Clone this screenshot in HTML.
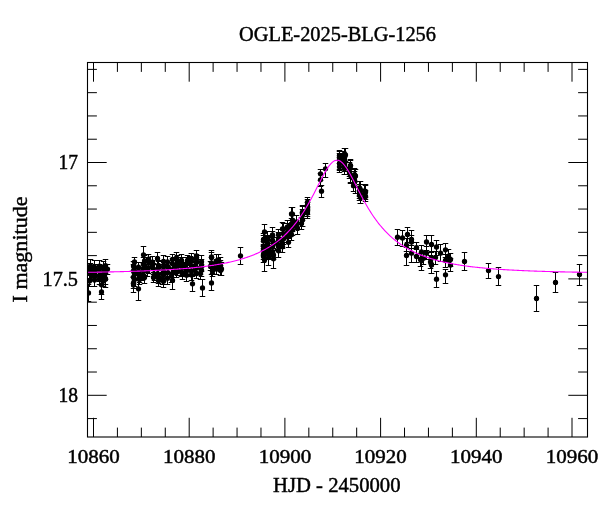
<!DOCTYPE html>
<html><head><meta charset="utf-8"><style>html,body{margin:0;padding:0;background:#fff;width:600px;height:512px;overflow:hidden}svg{display:block;will-change:transform}</style></head>
<body><svg width="600" height="512" viewBox="0 0 600 512"><rect width="600" height="512" fill="#fff"/>
<defs><clipPath id="cp"><rect x="87.5" y="62.5" width="500.0" height="374.5"/></clipPath></defs><g clip-path="url(#cp)">
<path d="M90.5,259.5V272.5M87.75,259.5h5.5M87.75,272.5h5.5M90.5,263.5V275.5M87.75,263.5h5.5M87.75,275.5h5.5M89.5,267.5V278.5M86.75,267.5h5.5M86.75,278.5h5.5M91.5,270.5V280.5M88.75,270.5h5.5M88.75,280.5h5.5M89.5,275.5V286.5M86.75,275.5h5.5M86.75,286.5h5.5M94.5,260.5V273.5M91.75,260.5h5.5M91.75,273.5h5.5M95.5,264.5V274.5M92.75,264.5h5.5M92.75,274.5h5.5M94.5,268.5V277.5M91.75,268.5h5.5M91.75,277.5h5.5M94.5,271.5V280.5M91.75,271.5h5.5M91.75,280.5h5.5M94.5,273.5V286.5M91.75,273.5h5.5M91.75,286.5h5.5M99.5,260.5V271.5M96.75,260.5h5.5M96.75,271.5h5.5M99.5,264.5V274.5M96.75,264.5h5.5M96.75,274.5h5.5M100.5,268.5V280.5M97.75,268.5h5.5M97.75,280.5h5.5M99.5,271.5V281.5M96.75,271.5h5.5M96.75,281.5h5.5M99.5,272.5V284.5M96.75,272.5h5.5M96.75,284.5h5.5M103.5,261.5V272.5M100.75,261.5h5.5M100.75,272.5h5.5M104.5,265.5V274.5M101.75,265.5h5.5M101.75,274.5h5.5M102.5,268.5V279.5M99.75,268.5h5.5M99.75,279.5h5.5M104.5,271.5V280.5M101.75,271.5h5.5M101.75,280.5h5.5M103.5,275.5V286.5M100.75,275.5h5.5M100.75,286.5h5.5M105.5,259.5V271.5M102.75,259.5h5.5M102.75,271.5h5.5M107.5,264.5V274.5M104.75,264.5h5.5M104.75,274.5h5.5M105.5,267.5V279.5M102.75,267.5h5.5M102.75,279.5h5.5M105.5,273.5V284.5M102.75,273.5h5.5M102.75,284.5h5.5M88.5,284.5V301.5M85.75,284.5h5.5M85.75,301.5h5.5M101.5,285.5V299.5M98.75,285.5h5.5M98.75,299.5h5.5M101.5,277.5V294.5M98.75,277.5h5.5M98.75,294.5h5.5M105.5,271.5V287.5M102.75,271.5h5.5M102.75,287.5h5.5M133.5,261.5V270.5M130.75,261.5h5.5M130.75,270.5h5.5M134.5,262.5V272.5M131.75,262.5h5.5M131.75,272.5h5.5M133.5,264.5V277.5M130.75,264.5h5.5M130.75,277.5h5.5M134.5,267.5V280.5M131.75,267.5h5.5M131.75,280.5h5.5M133.5,271.5V283.5M130.75,271.5h5.5M130.75,283.5h5.5M134.5,273.5V286.5M131.75,273.5h5.5M131.75,286.5h5.5M133.5,276.5V288.5M130.75,276.5h5.5M130.75,288.5h5.5M138.5,262.5V271.5M135.75,262.5h5.5M135.75,271.5h5.5M138.5,266.5V275.5M135.75,266.5h5.5M135.75,275.5h5.5M139.5,268.5V279.5M136.75,268.5h5.5M136.75,279.5h5.5M139.5,271.5V282.5M136.75,271.5h5.5M136.75,282.5h5.5M139.5,274.5V284.5M136.75,274.5h5.5M136.75,284.5h5.5M144.5,255.5V265.5M141.75,255.5h5.5M141.75,265.5h5.5M143.5,257.5V270.5M140.75,257.5h5.5M140.75,270.5h5.5M143.5,262.5V274.5M140.75,262.5h5.5M140.75,274.5h5.5M144.5,265.5V275.5M141.75,265.5h5.5M141.75,275.5h5.5M142.5,270.5V280.5M139.75,270.5h5.5M139.75,280.5h5.5M144.5,271.5V283.5M141.75,271.5h5.5M141.75,283.5h5.5M148.5,254.5V264.5M145.75,254.5h5.5M145.75,264.5h5.5M148.5,257.5V266.5M145.75,257.5h5.5M145.75,266.5h5.5M148.5,262.5V273.5M145.75,262.5h5.5M145.75,273.5h5.5M147.5,266.5V276.5M144.75,266.5h5.5M144.75,276.5h5.5M152.5,256.5V267.5M149.75,256.5h5.5M149.75,267.5h5.5M152.5,260.5V270.5M149.75,260.5h5.5M149.75,270.5h5.5M153.5,263.5V274.5M150.75,263.5h5.5M150.75,274.5h5.5M154.5,269.5V280.5M151.75,269.5h5.5M151.75,280.5h5.5M153.5,272.5V282.5M150.75,272.5h5.5M150.75,282.5h5.5M157.5,252.5V264.5M154.75,252.5h5.5M154.75,264.5h5.5M158.5,260.5V270.5M155.75,260.5h5.5M155.75,270.5h5.5M158.5,261.5V273.5M155.75,261.5h5.5M155.75,273.5h5.5M157.5,268.5V278.5M154.75,268.5h5.5M154.75,278.5h5.5M158.5,270.5V283.5M155.75,270.5h5.5M155.75,283.5h5.5M158.5,274.5V286.5M155.75,274.5h5.5M155.75,286.5h5.5M163.5,255.5V267.5M160.75,255.5h5.5M160.75,267.5h5.5M163.5,261.5V271.5M160.75,261.5h5.5M160.75,271.5h5.5M163.5,264.5V275.5M160.75,264.5h5.5M160.75,275.5h5.5M163.5,266.5V278.5M160.75,266.5h5.5M160.75,278.5h5.5M163.5,269.5V281.5M160.75,269.5h5.5M160.75,281.5h5.5M163.5,275.5V287.5M160.75,275.5h5.5M160.75,287.5h5.5M167.5,256.5V267.5M164.75,256.5h5.5M164.75,267.5h5.5M167.5,261.5V271.5M164.75,261.5h5.5M164.75,271.5h5.5M168.5,262.5V273.5M165.75,262.5h5.5M165.75,273.5h5.5M167.5,266.5V278.5M164.75,266.5h5.5M164.75,278.5h5.5M167.5,271.5V284.5M164.75,271.5h5.5M164.75,284.5h5.5M172.5,254.5V264.5M169.75,254.5h5.5M169.75,264.5h5.5M172.5,258.5V268.5M169.75,258.5h5.5M169.75,268.5h5.5M173.5,263.5V274.5M170.75,263.5h5.5M170.75,274.5h5.5M173.5,265.5V277.5M170.75,265.5h5.5M170.75,277.5h5.5M171.5,269.5V282.5M168.75,269.5h5.5M168.75,282.5h5.5M177.5,255.5V265.5M174.75,255.5h5.5M174.75,265.5h5.5M177.5,257.5V267.5M174.75,257.5h5.5M174.75,267.5h5.5M176.5,260.5V273.5M173.75,260.5h5.5M173.75,273.5h5.5M177.5,265.5V275.5M174.75,265.5h5.5M174.75,275.5h5.5M176.5,267.5V277.5M173.75,267.5h5.5M173.75,277.5h5.5M181.5,254.5V266.5M178.75,254.5h5.5M178.75,266.5h5.5M181.5,257.5V269.5M178.75,257.5h5.5M178.75,269.5h5.5M182.5,262.5V272.5M179.75,262.5h5.5M179.75,272.5h5.5M181.5,267.5V276.5M178.75,267.5h5.5M178.75,276.5h5.5M182.5,269.5V279.5M179.75,269.5h5.5M179.75,279.5h5.5M187.5,255.5V265.5M184.75,255.5h5.5M184.75,265.5h5.5M186.5,257.5V269.5M183.75,257.5h5.5M183.75,269.5h5.5M185.5,262.5V271.5M182.75,262.5h5.5M182.75,271.5h5.5M186.5,265.5V276.5M183.75,265.5h5.5M183.75,276.5h5.5M186.5,268.5V281.5M183.75,268.5h5.5M183.75,281.5h5.5M191.5,253.5V264.5M188.75,253.5h5.5M188.75,264.5h5.5M190.5,256.5V267.5M187.75,256.5h5.5M187.75,267.5h5.5M191.5,261.5V271.5M188.75,261.5h5.5M188.75,271.5h5.5M191.5,265.5V276.5M188.75,265.5h5.5M188.75,276.5h5.5M191.5,269.5V280.5M188.75,269.5h5.5M188.75,280.5h5.5M196.5,254.5V263.5M193.75,254.5h5.5M193.75,263.5h5.5M196.5,257.5V266.5M193.75,257.5h5.5M193.75,266.5h5.5M195.5,259.5V271.5M192.75,259.5h5.5M192.75,271.5h5.5M195.5,262.5V275.5M192.75,262.5h5.5M192.75,275.5h5.5M196.5,268.5V278.5M193.75,268.5h5.5M193.75,278.5h5.5M201.5,255.5V267.5M198.75,255.5h5.5M198.75,267.5h5.5M201.5,259.5V271.5M198.75,259.5h5.5M198.75,271.5h5.5M200.5,261.5V274.5M197.75,261.5h5.5M197.75,274.5h5.5M201.5,264.5V276.5M198.75,264.5h5.5M198.75,276.5h5.5M200.5,267.5V279.5M197.75,267.5h5.5M197.75,279.5h5.5M143.5,246.5V263.5M140.75,246.5h5.5M140.75,263.5h5.5M138.5,280.5V300.5M135.75,280.5h5.5M135.75,300.5h5.5M133.5,277.5V292.5M130.75,277.5h5.5M130.75,292.5h5.5M134.5,257.5V268.5M131.75,257.5h5.5M131.75,268.5h5.5M162.5,272.5V284.5M159.75,272.5h5.5M159.75,284.5h5.5M172.5,272.5V289.5M169.75,272.5h5.5M169.75,289.5h5.5M192.5,276.5V291.5M189.75,276.5h5.5M189.75,291.5h5.5M202.5,279.5V296.5M199.75,279.5h5.5M199.75,296.5h5.5M196.5,250.5V262.5M193.75,250.5h5.5M193.75,262.5h5.5M191.5,253.5V265.5M188.75,253.5h5.5M188.75,265.5h5.5M176.5,252.5V264.5M173.75,252.5h5.5M173.75,264.5h5.5M211.5,252.5V262.5M208.75,252.5h5.5M208.75,262.5h5.5M211.5,257.5V268.5M208.75,257.5h5.5M208.75,268.5h5.5M210.5,261.5V270.5M207.75,261.5h5.5M207.75,270.5h5.5M212.5,262.5V273.5M209.75,262.5h5.5M209.75,273.5h5.5M212.5,266.5V276.5M209.75,266.5h5.5M209.75,276.5h5.5M216.5,254.5V267.5M213.75,254.5h5.5M213.75,267.5h5.5M216.5,259.5V270.5M213.75,259.5h5.5M213.75,270.5h5.5M216.5,260.5V270.5M213.75,260.5h5.5M213.75,270.5h5.5M216.5,263.5V274.5M213.75,263.5h5.5M213.75,274.5h5.5M220.5,257.5V269.5M217.75,257.5h5.5M217.75,269.5h5.5M220.5,260.5V271.5M217.75,260.5h5.5M217.75,271.5h5.5M220.5,265.5V275.5M217.75,265.5h5.5M217.75,275.5h5.5M211.5,250.5V264.5M208.75,250.5h5.5M208.75,264.5h5.5M211.5,274.5V290.5M208.75,274.5h5.5M208.75,290.5h5.5M218.5,254.5V266.5M215.75,254.5h5.5M215.75,266.5h5.5M221.5,262.5V275.5M218.75,262.5h5.5M218.75,275.5h5.5M240.5,247.5V264.5M237.75,247.5h5.5M237.75,264.5h5.5M263.5,233.5V245.5M260.75,233.5h5.5M260.75,245.5h5.5M263.5,235.5V246.5M260.75,235.5h5.5M260.75,246.5h5.5M263.5,241.5V250.5M260.75,241.5h5.5M260.75,250.5h5.5M263.5,244.5V255.5M260.75,244.5h5.5M260.75,255.5h5.5M263.5,248.5V259.5M260.75,248.5h5.5M260.75,259.5h5.5M263.5,251.5V262.5M260.75,251.5h5.5M260.75,262.5h5.5M267.5,231.5V243.5M264.75,231.5h5.5M264.75,243.5h5.5M267.5,235.5V244.5M264.75,235.5h5.5M264.75,244.5h5.5M267.5,238.5V251.5M264.75,238.5h5.5M264.75,251.5h5.5M267.5,242.5V252.5M264.75,242.5h5.5M264.75,252.5h5.5M268.5,248.5V258.5M265.75,248.5h5.5M265.75,258.5h5.5M268.5,249.5V259.5M265.75,249.5h5.5M265.75,259.5h5.5M272.5,231.5V241.5M269.75,231.5h5.5M269.75,241.5h5.5M272.5,235.5V245.5M269.75,235.5h5.5M269.75,245.5h5.5M273.5,237.5V248.5M270.75,237.5h5.5M270.75,248.5h5.5M272.5,241.5V252.5M269.75,241.5h5.5M269.75,252.5h5.5M272.5,246.5V256.5M269.75,246.5h5.5M269.75,256.5h5.5M273.5,250.5V259.5M270.75,250.5h5.5M270.75,259.5h5.5M278.5,229.5V240.5M275.75,229.5h5.5M275.75,240.5h5.5M278.5,232.5V245.5M275.75,232.5h5.5M275.75,245.5h5.5M277.5,237.5V249.5M274.75,237.5h5.5M274.75,249.5h5.5M278.5,241.5V251.5M275.75,241.5h5.5M275.75,251.5h5.5M278.5,244.5V257.5M275.75,244.5h5.5M275.75,257.5h5.5M283.5,223.5V233.5M280.75,223.5h5.5M280.75,233.5h5.5M283.5,229.5V238.5M280.75,229.5h5.5M280.75,238.5h5.5M283.5,232.5V244.5M280.75,232.5h5.5M280.75,244.5h5.5M282.5,237.5V248.5M279.75,237.5h5.5M279.75,248.5h5.5M282.5,240.5V252.5M279.75,240.5h5.5M279.75,252.5h5.5M288.5,223.5V233.5M285.75,223.5h5.5M285.75,233.5h5.5M288.5,225.5V236.5M285.75,225.5h5.5M285.75,236.5h5.5M288.5,228.5V238.5M285.75,228.5h5.5M285.75,238.5h5.5M287.5,231.5V242.5M284.75,231.5h5.5M284.75,242.5h5.5M288.5,237.5V247.5M285.75,237.5h5.5M285.75,247.5h5.5M291.5,207.5V220.5M288.75,207.5h5.5M288.75,220.5h5.5M292.5,215.5V224.5M289.75,215.5h5.5M289.75,224.5h5.5M291.5,218.5V229.5M288.75,218.5h5.5M288.75,229.5h5.5M292.5,220.5V231.5M289.75,220.5h5.5M289.75,231.5h5.5M292.5,224.5V235.5M289.75,224.5h5.5M289.75,235.5h5.5M291.5,228.5V240.5M288.75,228.5h5.5M288.75,240.5h5.5M296.5,215.5V227.5M293.75,215.5h5.5M293.75,227.5h5.5M296.5,220.5V229.5M293.75,220.5h5.5M293.75,229.5h5.5M297.5,222.5V234.5M294.75,222.5h5.5M294.75,234.5h5.5M302.5,206.5V218.5M299.75,206.5h5.5M299.75,218.5h5.5M302.5,209.5V220.5M299.75,209.5h5.5M299.75,220.5h5.5M302.5,213.5V226.5M299.75,213.5h5.5M299.75,226.5h5.5M301.5,217.5V229.5M298.75,217.5h5.5M298.75,229.5h5.5M307.5,199.5V209.5M304.75,199.5h5.5M304.75,209.5h5.5M307.5,202.5V214.5M304.75,202.5h5.5M304.75,214.5h5.5M307.5,206.5V216.5M304.75,206.5h5.5M304.75,216.5h5.5M307.5,207.5V218.5M304.75,207.5h5.5M304.75,218.5h5.5M264.5,252.5V271.5M261.75,252.5h5.5M261.75,271.5h5.5M273.5,250.5V268.5M270.75,250.5h5.5M270.75,268.5h5.5M268.5,250.5V265.5M265.75,250.5h5.5M265.75,265.5h5.5M264.5,224.5V240.5M261.75,224.5h5.5M261.75,240.5h5.5M272.5,227.5V243.5M269.75,227.5h5.5M269.75,243.5h5.5M282.5,222.5V237.5M279.75,222.5h5.5M279.75,237.5h5.5M287.5,220.5V235.5M284.75,220.5h5.5M284.75,235.5h5.5M292.5,207.5V222.5M289.75,207.5h5.5M289.75,222.5h5.5M302.5,205.5V226.5M299.75,205.5h5.5M299.75,226.5h5.5M307.5,197.5V210.5M304.75,197.5h5.5M304.75,210.5h5.5M321.5,185.5V197.5M318.75,185.5h5.5M318.75,197.5h5.5M320.5,173.5V186.5M317.75,173.5h5.5M317.75,186.5h5.5M320.5,169.5V180.5M317.75,169.5h5.5M317.75,180.5h5.5M325.5,163.5V177.5M322.75,163.5h5.5M322.75,177.5h5.5M339.5,150.5V160.5M336.75,150.5h5.5M336.75,160.5h5.5M339.5,153.5V163.5M336.75,153.5h5.5M336.75,163.5h5.5M340.5,156.5V166.5M337.75,156.5h5.5M337.75,166.5h5.5M339.5,157.5V169.5M336.75,157.5h5.5M336.75,169.5h5.5M339.5,160.5V172.5M336.75,160.5h5.5M336.75,172.5h5.5M345.5,148.5V161.5M342.75,148.5h5.5M342.75,161.5h5.5M343.5,151.5V163.5M340.75,151.5h5.5M340.75,163.5h5.5M344.5,154.5V164.5M341.75,154.5h5.5M341.75,164.5h5.5M344.5,157.5V166.5M341.75,157.5h5.5M341.75,166.5h5.5M344.5,160.5V171.5M341.75,160.5h5.5M341.75,171.5h5.5M344.5,163.5V174.5M341.75,163.5h5.5M341.75,174.5h5.5M350.5,159.5V171.5M347.75,159.5h5.5M347.75,171.5h5.5M349.5,162.5V174.5M346.75,162.5h5.5M346.75,174.5h5.5M349.5,167.5V176.5M346.75,167.5h5.5M346.75,176.5h5.5M349.5,167.5V178.5M346.75,167.5h5.5M346.75,178.5h5.5M350.5,169.5V182.5M347.75,169.5h5.5M347.75,182.5h5.5M354.5,168.5V180.5M351.75,168.5h5.5M351.75,180.5h5.5M354.5,171.5V182.5M351.75,171.5h5.5M351.75,182.5h5.5M354.5,174.5V185.5M351.75,174.5h5.5M351.75,185.5h5.5M354.5,177.5V187.5M351.75,177.5h5.5M351.75,187.5h5.5M353.5,179.5V191.5M350.75,179.5h5.5M350.75,191.5h5.5M359.5,181.5V193.5M356.75,181.5h5.5M356.75,193.5h5.5M359.5,184.5V196.5M356.75,184.5h5.5M356.75,196.5h5.5M359.5,187.5V198.5M356.75,187.5h5.5M356.75,198.5h5.5M359.5,190.5V200.5M356.75,190.5h5.5M356.75,200.5h5.5M360.5,191.5V203.5M357.75,191.5h5.5M357.75,203.5h5.5M364.5,184.5V197.5M361.75,184.5h5.5M361.75,197.5h5.5M365.5,185.5V197.5M362.75,185.5h5.5M362.75,197.5h5.5M364.5,189.5V198.5M361.75,189.5h5.5M361.75,198.5h5.5M365.5,190.5V201.5M362.75,190.5h5.5M362.75,201.5h5.5M339.5,151.5V170.5M336.75,151.5h5.5M336.75,170.5h5.5M344.5,148.5V174.5M341.75,148.5h5.5M341.75,174.5h5.5M350.5,160.5V183.5M347.75,160.5h5.5M347.75,183.5h5.5M355.5,169.5V193.5M352.75,169.5h5.5M352.75,193.5h5.5M360.5,181.5V203.5M357.75,181.5h5.5M357.75,203.5h5.5M365.5,184.5V199.5M362.75,184.5h5.5M362.75,199.5h5.5M397.5,229.5V245.5M394.75,229.5h5.5M394.75,245.5h5.5M402.5,230.5V246.5M399.75,230.5h5.5M399.75,246.5h5.5M407.5,227.5V242.5M404.75,227.5h5.5M404.75,242.5h5.5M411.5,230.5V248.5M408.75,230.5h5.5M408.75,248.5h5.5M406.5,238.5V251.5M403.75,238.5h5.5M403.75,251.5h5.5M411.5,235.5V248.5M408.75,235.5h5.5M408.75,248.5h5.5M406.5,247.5V265.5M403.75,247.5h5.5M403.75,265.5h5.5M411.5,245.5V262.5M408.75,245.5h5.5M408.75,262.5h5.5M416.5,242.5V255.5M413.75,242.5h5.5M413.75,255.5h5.5M416.5,249.5V262.5M413.75,249.5h5.5M413.75,262.5h5.5M421.5,245.5V258.5M418.75,245.5h5.5M418.75,258.5h5.5M421.5,252.5V270.5M418.75,252.5h5.5M418.75,270.5h5.5M426.5,235.5V250.5M423.75,235.5h5.5M423.75,250.5h5.5M431.5,235.5V252.5M428.75,235.5h5.5M428.75,252.5h5.5M426.5,246.5V259.5M423.75,246.5h5.5M423.75,259.5h5.5M431.5,257.5V273.5M428.75,257.5h5.5M428.75,273.5h5.5M436.5,240.5V255.5M433.75,240.5h5.5M433.75,255.5h5.5M435.5,251.5V264.5M432.75,251.5h5.5M432.75,264.5h5.5M440.5,244.5V261.5M437.75,244.5h5.5M437.75,261.5h5.5M445.5,243.5V257.5M442.75,243.5h5.5M442.75,257.5h5.5M445.5,254.5V267.5M442.75,254.5h5.5M442.75,267.5h5.5M450.5,253.5V266.5M447.75,253.5h5.5M447.75,266.5h5.5M450.5,258.5V271.5M447.75,258.5h5.5M447.75,271.5h5.5M436.5,271.5V287.5M433.75,271.5h5.5M433.75,287.5h5.5M445.5,269.5V283.5M442.75,269.5h5.5M442.75,283.5h5.5M423.5,251.5V264.5M420.75,251.5h5.5M420.75,264.5h5.5M431.5,251.5V264.5M428.75,251.5h5.5M428.75,264.5h5.5M420.5,253.5V266.5M417.75,253.5h5.5M417.75,266.5h5.5M430.5,255.5V268.5M427.75,255.5h5.5M427.75,268.5h5.5M448.5,249.5V262.5M445.75,249.5h5.5M445.75,262.5h5.5M431.5,256.5V273.5M428.75,256.5h5.5M428.75,273.5h5.5M464.5,252.5V270.5M461.75,252.5h5.5M461.75,270.5h5.5M488.5,263.5V278.5M485.75,263.5h5.5M485.75,278.5h5.5M498.5,267.5V285.5M495.75,267.5h5.5M495.75,285.5h5.5M536.5,285.5V311.5M533.75,285.5h5.5M533.75,311.5h5.5M555.5,272.5V292.5M552.75,272.5h5.5M552.75,292.5h5.5M579.5,264.5V285.5M576.75,264.5h5.5M576.75,285.5h5.5" fill="none" stroke="#000" stroke-width="1"/>
<g fill="#000"><circle cx="90.5" cy="266.0" r="2.65"/><circle cx="90.5" cy="269.4" r="2.65"/><circle cx="89.5" cy="273.0" r="2.65"/><circle cx="91.5" cy="275.4" r="2.65"/><circle cx="89.5" cy="281.1" r="2.65"/><circle cx="94.5" cy="267.2" r="2.65"/><circle cx="95.5" cy="269.7" r="2.65"/><circle cx="94.5" cy="273.1" r="2.65"/><circle cx="94.5" cy="275.9" r="2.65"/><circle cx="94.5" cy="280.0" r="2.65"/><circle cx="99.5" cy="266.2" r="2.65"/><circle cx="99.5" cy="269.3" r="2.65"/><circle cx="100.5" cy="274.4" r="2.65"/><circle cx="99.5" cy="276.1" r="2.65"/><circle cx="99.5" cy="279.0" r="2.65"/><circle cx="103.5" cy="266.8" r="2.65"/><circle cx="104.5" cy="270.4" r="2.65"/><circle cx="102.5" cy="274.2" r="2.65"/><circle cx="104.5" cy="276.3" r="2.65"/><circle cx="103.5" cy="281.0" r="2.65"/><circle cx="105.5" cy="265.6" r="2.65"/><circle cx="107.5" cy="269.1" r="2.65"/><circle cx="105.5" cy="273.1" r="2.65"/><circle cx="105.5" cy="279.1" r="2.65"/><circle cx="88.5" cy="292.9" r="2.65"/><circle cx="101.5" cy="292.0" r="2.65"/><circle cx="101.5" cy="284.8" r="2.65"/><circle cx="105.5" cy="279.0" r="2.65"/><circle cx="133.5" cy="266.1" r="2.65"/><circle cx="134.5" cy="267.6" r="2.65"/><circle cx="133.5" cy="270.9" r="2.65"/><circle cx="134.5" cy="274.0" r="2.65"/><circle cx="133.5" cy="277.2" r="2.65"/><circle cx="134.5" cy="279.5" r="2.65"/><circle cx="133.5" cy="282.9" r="2.65"/><circle cx="138.5" cy="267.1" r="2.65"/><circle cx="138.5" cy="271.0" r="2.65"/><circle cx="139.5" cy="273.7" r="2.65"/><circle cx="139.5" cy="277.2" r="2.65"/><circle cx="139.5" cy="279.6" r="2.65"/><circle cx="144.5" cy="260.8" r="2.65"/><circle cx="143.5" cy="264.2" r="2.65"/><circle cx="143.5" cy="268.5" r="2.65"/><circle cx="144.5" cy="270.6" r="2.65"/><circle cx="142.5" cy="275.9" r="2.65"/><circle cx="144.5" cy="277.5" r="2.65"/><circle cx="148.5" cy="259.2" r="2.65"/><circle cx="148.5" cy="262.0" r="2.65"/><circle cx="148.5" cy="267.7" r="2.65"/><circle cx="147.5" cy="271.4" r="2.65"/><circle cx="152.5" cy="262.1" r="2.65"/><circle cx="152.5" cy="265.5" r="2.65"/><circle cx="153.5" cy="268.9" r="2.65"/><circle cx="154.5" cy="275.0" r="2.65"/><circle cx="153.5" cy="277.4" r="2.65"/><circle cx="157.5" cy="258.5" r="2.65"/><circle cx="158.5" cy="265.5" r="2.65"/><circle cx="158.5" cy="267.9" r="2.65"/><circle cx="157.5" cy="273.6" r="2.65"/><circle cx="158.5" cy="276.8" r="2.65"/><circle cx="158.5" cy="280.7" r="2.65"/><circle cx="163.5" cy="261.4" r="2.65"/><circle cx="163.5" cy="266.6" r="2.65"/><circle cx="163.5" cy="270.2" r="2.65"/><circle cx="163.5" cy="272.5" r="2.65"/><circle cx="163.5" cy="275.3" r="2.65"/><circle cx="163.5" cy="281.3" r="2.65"/><circle cx="167.5" cy="261.9" r="2.65"/><circle cx="167.5" cy="266.4" r="2.65"/><circle cx="168.5" cy="267.9" r="2.65"/><circle cx="167.5" cy="272.8" r="2.65"/><circle cx="167.5" cy="278.3" r="2.65"/><circle cx="172.5" cy="259.4" r="2.65"/><circle cx="172.5" cy="263.8" r="2.65"/><circle cx="173.5" cy="269.0" r="2.65"/><circle cx="173.5" cy="271.8" r="2.65"/><circle cx="171.5" cy="275.9" r="2.65"/><circle cx="177.5" cy="260.6" r="2.65"/><circle cx="177.5" cy="262.3" r="2.65"/><circle cx="176.5" cy="266.9" r="2.65"/><circle cx="177.5" cy="270.4" r="2.65"/><circle cx="176.5" cy="272.3" r="2.65"/><circle cx="181.5" cy="260.5" r="2.65"/><circle cx="181.5" cy="263.6" r="2.65"/><circle cx="182.5" cy="267.4" r="2.65"/><circle cx="181.5" cy="271.9" r="2.65"/><circle cx="182.5" cy="274.5" r="2.65"/><circle cx="187.5" cy="260.4" r="2.65"/><circle cx="186.5" cy="263.6" r="2.65"/><circle cx="185.5" cy="267.1" r="2.65"/><circle cx="186.5" cy="271.1" r="2.65"/><circle cx="186.5" cy="275.2" r="2.65"/><circle cx="191.5" cy="258.9" r="2.65"/><circle cx="190.5" cy="262.0" r="2.65"/><circle cx="191.5" cy="266.1" r="2.65"/><circle cx="191.5" cy="271.2" r="2.65"/><circle cx="191.5" cy="274.9" r="2.65"/><circle cx="196.5" cy="259.0" r="2.65"/><circle cx="196.5" cy="262.0" r="2.65"/><circle cx="195.5" cy="265.4" r="2.65"/><circle cx="195.5" cy="268.8" r="2.65"/><circle cx="196.5" cy="273.5" r="2.65"/><circle cx="201.5" cy="261.7" r="2.65"/><circle cx="201.5" cy="265.2" r="2.65"/><circle cx="200.5" cy="268.3" r="2.65"/><circle cx="201.5" cy="270.2" r="2.65"/><circle cx="200.5" cy="273.6" r="2.65"/><circle cx="143.5" cy="254.8" r="2.65"/><circle cx="138.5" cy="288.8" r="2.65"/><circle cx="133.5" cy="285.0" r="2.65"/><circle cx="134.5" cy="262.0" r="2.65"/><circle cx="162.5" cy="279.0" r="2.65"/><circle cx="172.5" cy="280.4" r="2.65"/><circle cx="192.5" cy="283.8" r="2.65"/><circle cx="202.5" cy="287.9" r="2.65"/><circle cx="196.5" cy="256.0" r="2.65"/><circle cx="191.5" cy="259.0" r="2.65"/><circle cx="176.5" cy="258.0" r="2.65"/><circle cx="211.5" cy="257.6" r="2.65"/><circle cx="211.5" cy="262.8" r="2.65"/><circle cx="210.5" cy="266.3" r="2.65"/><circle cx="212.5" cy="268.0" r="2.65"/><circle cx="212.5" cy="271.3" r="2.65"/><circle cx="216.5" cy="261.0" r="2.65"/><circle cx="216.5" cy="264.6" r="2.65"/><circle cx="216.5" cy="265.5" r="2.65"/><circle cx="216.5" cy="269.0" r="2.65"/><circle cx="220.5" cy="263.6" r="2.65"/><circle cx="220.5" cy="266.0" r="2.65"/><circle cx="220.5" cy="270.5" r="2.65"/><circle cx="211.5" cy="256.8" r="2.65"/><circle cx="211.5" cy="282.9" r="2.65"/><circle cx="218.5" cy="260.0" r="2.65"/><circle cx="221.5" cy="269.0" r="2.65"/><circle cx="240.5" cy="255.8" r="2.65"/><circle cx="263.5" cy="239.5" r="2.65"/><circle cx="263.5" cy="241.0" r="2.65"/><circle cx="263.5" cy="246.3" r="2.65"/><circle cx="263.5" cy="250.1" r="2.65"/><circle cx="263.5" cy="254.2" r="2.65"/><circle cx="263.5" cy="256.6" r="2.65"/><circle cx="267.5" cy="237.5" r="2.65"/><circle cx="267.5" cy="239.9" r="2.65"/><circle cx="267.5" cy="245.0" r="2.65"/><circle cx="267.5" cy="247.4" r="2.65"/><circle cx="268.5" cy="253.4" r="2.65"/><circle cx="268.5" cy="254.5" r="2.65"/><circle cx="272.5" cy="236.6" r="2.65"/><circle cx="272.5" cy="240.4" r="2.65"/><circle cx="273.5" cy="242.8" r="2.65"/><circle cx="272.5" cy="247.0" r="2.65"/><circle cx="272.5" cy="251.6" r="2.65"/><circle cx="273.5" cy="254.9" r="2.65"/><circle cx="278.5" cy="234.7" r="2.65"/><circle cx="278.5" cy="239.0" r="2.65"/><circle cx="277.5" cy="243.8" r="2.65"/><circle cx="278.5" cy="246.8" r="2.65"/><circle cx="278.5" cy="250.8" r="2.65"/><circle cx="283.5" cy="228.9" r="2.65"/><circle cx="283.5" cy="233.8" r="2.65"/><circle cx="283.5" cy="238.7" r="2.65"/><circle cx="282.5" cy="243.1" r="2.65"/><circle cx="282.5" cy="246.7" r="2.65"/><circle cx="288.5" cy="228.3" r="2.65"/><circle cx="288.5" cy="231.5" r="2.65"/><circle cx="288.5" cy="233.6" r="2.65"/><circle cx="287.5" cy="236.9" r="2.65"/><circle cx="288.5" cy="242.3" r="2.65"/><circle cx="291.5" cy="214.0" r="2.65"/><circle cx="292.5" cy="220.1" r="2.65"/><circle cx="291.5" cy="224.0" r="2.65"/><circle cx="292.5" cy="225.9" r="2.65"/><circle cx="292.5" cy="230.0" r="2.65"/><circle cx="291.5" cy="234.7" r="2.65"/><circle cx="296.5" cy="221.9" r="2.65"/><circle cx="296.5" cy="225.0" r="2.65"/><circle cx="297.5" cy="228.4" r="2.65"/><circle cx="302.5" cy="212.3" r="2.65"/><circle cx="302.5" cy="215.0" r="2.65"/><circle cx="302.5" cy="220.1" r="2.65"/><circle cx="301.5" cy="223.4" r="2.65"/><circle cx="307.5" cy="204.6" r="2.65"/><circle cx="307.5" cy="208.3" r="2.65"/><circle cx="307.5" cy="211.5" r="2.65"/><circle cx="307.5" cy="213.0" r="2.65"/><circle cx="264.5" cy="260.0" r="2.65"/><circle cx="273.5" cy="258.7" r="2.65"/><circle cx="268.5" cy="257.6" r="2.65"/><circle cx="264.5" cy="232.0" r="2.65"/><circle cx="272.5" cy="235.0" r="2.65"/><circle cx="282.5" cy="229.0" r="2.65"/><circle cx="287.5" cy="227.0" r="2.65"/><circle cx="292.5" cy="214.1" r="2.65"/><circle cx="302.5" cy="212.2" r="2.65"/><circle cx="307.5" cy="202.2" r="2.65"/><circle cx="321.5" cy="191.2" r="2.65"/><circle cx="320.5" cy="179.8" r="2.65"/><circle cx="320.5" cy="173.8" r="2.65"/><circle cx="325.5" cy="168.8" r="2.65"/><circle cx="339.5" cy="155.3" r="2.65"/><circle cx="339.5" cy="158.8" r="2.65"/><circle cx="340.5" cy="161.3" r="2.65"/><circle cx="339.5" cy="163.5" r="2.65"/><circle cx="339.5" cy="166.8" r="2.65"/><circle cx="345.5" cy="154.9" r="2.65"/><circle cx="343.5" cy="157.2" r="2.65"/><circle cx="344.5" cy="159.5" r="2.65"/><circle cx="344.5" cy="162.1" r="2.65"/><circle cx="344.5" cy="165.9" r="2.65"/><circle cx="344.5" cy="168.7" r="2.65"/><circle cx="350.5" cy="165.7" r="2.65"/><circle cx="349.5" cy="168.4" r="2.65"/><circle cx="349.5" cy="172.0" r="2.65"/><circle cx="349.5" cy="173.1" r="2.65"/><circle cx="350.5" cy="175.6" r="2.65"/><circle cx="354.5" cy="174.6" r="2.65"/><circle cx="354.5" cy="177.0" r="2.65"/><circle cx="354.5" cy="180.0" r="2.65"/><circle cx="354.5" cy="182.3" r="2.65"/><circle cx="353.5" cy="185.7" r="2.65"/><circle cx="359.5" cy="188.0" r="2.65"/><circle cx="359.5" cy="190.5" r="2.65"/><circle cx="359.5" cy="192.8" r="2.65"/><circle cx="359.5" cy="195.3" r="2.65"/><circle cx="360.5" cy="197.6" r="2.65"/><circle cx="364.5" cy="191.0" r="2.65"/><circle cx="365.5" cy="191.7" r="2.65"/><circle cx="364.5" cy="194.1" r="2.65"/><circle cx="365.5" cy="196.2" r="2.65"/><circle cx="339.5" cy="157.0" r="2.65"/><circle cx="344.5" cy="154.0" r="2.65"/><circle cx="350.5" cy="165.6" r="2.65"/><circle cx="355.5" cy="176.0" r="2.65"/><circle cx="360.5" cy="190.0" r="2.65"/><circle cx="365.5" cy="192.0" r="2.65"/><circle cx="397.5" cy="237.2" r="2.65"/><circle cx="402.5" cy="238.0" r="2.65"/><circle cx="407.5" cy="234.5" r="2.65"/><circle cx="411.5" cy="239.5" r="2.65"/><circle cx="406.5" cy="245.1" r="2.65"/><circle cx="411.5" cy="242.0" r="2.65"/><circle cx="406.5" cy="255.5" r="2.65"/><circle cx="411.5" cy="253.2" r="2.65"/><circle cx="416.5" cy="247.6" r="2.65"/><circle cx="416.5" cy="256.4" r="2.65"/><circle cx="421.5" cy="252.0" r="2.65"/><circle cx="421.5" cy="260.8" r="2.65"/><circle cx="426.5" cy="242.0" r="2.65"/><circle cx="431.5" cy="244.5" r="2.65"/><circle cx="426.5" cy="253.2" r="2.65"/><circle cx="431.5" cy="265.1" r="2.65"/><circle cx="436.5" cy="247.0" r="2.65"/><circle cx="435.5" cy="257.6" r="2.65"/><circle cx="440.5" cy="253.2" r="2.65"/><circle cx="445.5" cy="249.8" r="2.65"/><circle cx="445.5" cy="260.5" r="2.65"/><circle cx="450.5" cy="259.5" r="2.65"/><circle cx="450.5" cy="265.1" r="2.65"/><circle cx="436.5" cy="279.2" r="2.65"/><circle cx="445.5" cy="274.8" r="2.65"/><circle cx="423.5" cy="258.2" r="2.65"/><circle cx="431.5" cy="258.2" r="2.65"/><circle cx="420.5" cy="259.5" r="2.65"/><circle cx="430.5" cy="262.0" r="2.65"/><circle cx="448.5" cy="256.4" r="2.65"/><circle cx="431.5" cy="264.4" r="2.65"/><circle cx="464.5" cy="261.4" r="2.65"/><circle cx="488.5" cy="270.6" r="2.65"/><circle cx="498.5" cy="276.6" r="2.65"/><circle cx="536.5" cy="298.5" r="2.65"/><circle cx="555.5" cy="282.4" r="2.65"/><circle cx="579.5" cy="274.5" r="2.65"/></g>
<path d="M87.5,272.32 L88.5,272.31 L89.5,272.29 L90.5,272.27 L91.5,272.26 L92.5,272.24 L93.5,272.23 L94.5,272.21 L95.5,272.19 L96.5,272.18 L97.5,272.16 L98.5,272.14 L99.5,272.12 L100.5,272.10 L101.5,272.09 L102.5,272.07 L103.5,272.05 L104.5,272.03 L105.5,272.01 L106.5,271.99 L107.5,271.97 L108.5,271.95 L109.5,271.92 L110.5,271.90 L111.5,271.88 L112.5,271.86 L113.5,271.84 L114.5,271.81 L115.5,271.79 L116.5,271.77 L117.5,271.74 L118.5,271.72 L119.5,271.69 L120.5,271.67 L121.5,271.64 L122.5,271.61 L123.5,271.59 L124.5,271.56 L125.5,271.53 L126.5,271.50 L127.5,271.47 L128.5,271.45 L129.5,271.42 L130.5,271.39 L131.5,271.35 L132.5,271.32 L133.5,271.29 L134.5,271.26 L135.5,271.23 L136.5,271.19 L137.5,271.16 L138.5,271.12 L139.5,271.09 L140.5,271.05 L141.5,271.01 L142.5,270.98 L143.5,270.94 L144.5,270.90 L145.5,270.86 L146.5,270.82 L147.5,270.78 L148.5,270.74 L149.5,270.69 L150.5,270.65 L151.5,270.61 L152.5,270.56 L153.5,270.52 L154.5,270.47 L155.5,270.42 L156.5,270.37 L157.5,270.32 L158.5,270.27 L159.5,270.22 L160.5,270.17 L161.5,270.12 L162.5,270.06 L163.5,270.01 L164.5,269.95 L165.5,269.89 L166.5,269.84 L167.5,269.78 L168.5,269.72 L169.5,269.65 L170.5,269.59 L171.5,269.53 L172.5,269.46 L173.5,269.39 L174.5,269.32 L175.5,269.25 L176.5,269.18 L177.5,269.11 L178.5,269.04 L179.5,268.96 L180.5,268.88 L181.5,268.81 L182.5,268.72 L183.5,268.64 L184.5,268.56 L185.5,268.47 L186.5,268.39 L187.5,268.30 L188.5,268.21 L189.5,268.12 L190.5,268.02 L191.5,267.92 L192.5,267.83 L193.5,267.73 L194.5,267.62 L195.5,267.52 L196.5,267.41 L197.5,267.30 L198.5,267.19 L199.5,267.08 L200.5,266.96 L201.5,266.84 L202.5,266.72 L203.5,266.60 L204.5,266.47 L205.5,266.34 L206.5,266.21 L207.5,266.07 L208.5,265.93 L209.5,265.79 L210.5,265.65 L211.5,265.50 L212.5,265.35 L213.5,265.20 L214.5,265.04 L215.5,264.88 L216.5,264.71 L217.5,264.54 L218.5,264.37 L219.5,264.19 L220.5,264.01 L221.5,263.83 L222.5,263.64 L223.5,263.45 L224.5,263.25 L225.5,263.05 L226.5,262.84 L227.5,262.63 L228.5,262.41 L229.5,262.19 L230.5,261.96 L231.5,261.73 L232.5,261.49 L233.5,261.25 L234.5,261.00 L235.5,260.74 L236.5,260.48 L237.5,260.21 L238.5,259.94 L239.5,259.66 L240.5,259.37 L241.5,259.07 L242.5,258.77 L243.5,258.46 L244.5,258.14 L245.5,257.81 L246.5,257.48 L247.5,257.14 L248.5,256.79 L249.5,256.43 L250.5,256.06 L251.5,255.68 L252.5,255.29 L253.5,254.89 L254.5,254.48 L255.5,254.06 L256.5,253.63 L257.5,253.19 L258.5,252.74 L259.5,252.27 L260.5,251.79 L261.5,251.30 L262.5,250.80 L263.5,250.28 L264.5,249.75 L265.5,249.20 L266.5,248.64 L267.5,248.07 L268.5,247.48 L269.5,246.87 L270.5,246.25 L271.5,245.60 L272.5,244.94 L273.5,244.27 L274.5,243.57 L275.5,242.85 L276.5,242.12 L277.5,241.36 L278.5,240.58 L279.5,239.78 L280.5,238.96 L281.5,238.11 L282.5,237.24 L283.5,236.35 L284.5,235.42 L285.5,234.48 L286.5,233.50 L287.5,232.50 L288.5,231.47 L289.5,230.40 L290.5,229.31 L291.5,228.19 L292.5,227.03 L293.5,225.84 L294.5,224.62 L295.5,223.37 L296.5,222.07 L297.5,220.75 L298.5,219.38 L299.5,217.98 L300.5,216.54 L301.5,215.06 L302.5,213.55 L303.5,211.99 L304.5,210.40 L305.5,208.76 L306.5,207.09 L307.5,205.38 L308.5,203.64 L309.5,201.85 L310.5,200.04 L311.5,198.19 L312.5,196.31 L313.5,194.40 L314.5,192.47 L315.5,190.52 L316.5,188.55 L317.5,186.58 L318.5,184.60 L319.5,182.63 L320.5,180.66 L321.5,178.72 L322.5,176.81 L323.5,174.95 L324.5,173.13 L325.5,171.39 L326.5,169.72 L327.5,168.14 L328.5,166.67 L329.5,165.32 L330.5,164.10 L331.5,163.03 L332.5,162.11 L333.5,161.37 L334.5,160.80 L335.5,160.41 L336.5,160.21 L337.5,160.21 L338.5,160.39 L339.5,160.77 L340.5,161.33 L341.5,162.06 L342.5,162.97 L343.5,164.03 L344.5,165.24 L345.5,166.58 L346.5,168.05 L347.5,169.62 L348.5,171.28 L349.5,173.02 L350.5,174.83 L351.5,176.70 L352.5,178.61 L353.5,180.54 L354.5,182.51 L355.5,184.48 L356.5,186.46 L357.5,188.43 L358.5,190.40 L359.5,192.35 L360.5,194.28 L361.5,196.19 L362.5,198.07 L363.5,199.92 L364.5,201.74 L365.5,203.53 L366.5,205.28 L367.5,206.99 L368.5,208.66 L369.5,210.30 L370.5,211.89 L371.5,213.45 L372.5,214.97 L373.5,216.45 L374.5,217.89 L375.5,219.30 L376.5,220.66 L377.5,221.99 L378.5,223.29 L379.5,224.55 L380.5,225.77 L381.5,226.96 L382.5,228.12 L383.5,229.24 L384.5,230.34 L385.5,231.40 L386.5,232.43 L387.5,233.44 L388.5,234.42 L389.5,235.37 L390.5,236.29 L391.5,237.19 L392.5,238.06 L393.5,238.91 L394.5,239.73 L395.5,240.53 L396.5,241.31 L397.5,242.07 L398.5,242.81 L399.5,243.53 L400.5,244.22 L401.5,244.90 L402.5,245.56 L403.5,246.21 L404.5,246.83 L405.5,247.44 L406.5,248.03 L407.5,248.61 L408.5,249.17 L409.5,249.72 L410.5,250.25 L411.5,250.77 L412.5,251.27 L413.5,251.76 L414.5,252.24 L415.5,252.71 L416.5,253.16 L417.5,253.60 L418.5,254.04 L419.5,254.46 L420.5,254.87 L421.5,255.26 L422.5,255.65 L423.5,256.03 L424.5,256.40 L425.5,256.76 L426.5,257.12 L427.5,257.46 L428.5,257.79 L429.5,258.12 L430.5,258.44 L431.5,258.75 L432.5,259.05 L433.5,259.35 L434.5,259.64 L435.5,259.92 L436.5,260.20 L437.5,260.46 L438.5,260.73 L439.5,260.98 L440.5,261.23 L441.5,261.48 L442.5,261.71 L443.5,261.95 L444.5,262.18 L445.5,262.40 L446.5,262.61 L447.5,262.83 L448.5,263.03 L449.5,263.24 L450.5,263.43 L451.5,263.63 L452.5,263.82 L453.5,264.00 L454.5,264.18 L455.5,264.36 L456.5,264.53 L457.5,264.70 L458.5,264.87 L459.5,265.03 L460.5,265.19 L461.5,265.34 L462.5,265.49 L463.5,265.64 L464.5,265.78 L465.5,265.93 L466.5,266.06 L467.5,266.20 L468.5,266.33 L469.5,266.46 L470.5,266.59 L471.5,266.71 L472.5,266.83 L473.5,266.95 L474.5,267.07 L475.5,267.18 L476.5,267.30 L477.5,267.40 L478.5,267.51 L479.5,267.62 L480.5,267.72 L481.5,267.82 L482.5,267.92 L483.5,268.02 L484.5,268.11 L485.5,268.20 L486.5,268.29 L487.5,268.38 L488.5,268.47 L489.5,268.55 L490.5,268.64 L491.5,268.72 L492.5,268.80 L493.5,268.88 L494.5,268.96 L495.5,269.03 L496.5,269.11 L497.5,269.18 L498.5,269.25 L499.5,269.32 L500.5,269.39 L501.5,269.46 L502.5,269.52 L503.5,269.59 L504.5,269.65 L505.5,269.71 L506.5,269.77 L507.5,269.83 L508.5,269.89 L509.5,269.95 L510.5,270.00 L511.5,270.06 L512.5,270.11 L513.5,270.17 L514.5,270.22 L515.5,270.27 L516.5,270.32 L517.5,270.37 L518.5,270.42 L519.5,270.47 L520.5,270.51 L521.5,270.56 L522.5,270.60 L523.5,270.65 L524.5,270.69 L525.5,270.73 L526.5,270.78 L527.5,270.82 L528.5,270.86 L529.5,270.90 L530.5,270.94 L531.5,270.97 L532.5,271.01 L533.5,271.05 L534.5,271.09 L535.5,271.12 L536.5,271.16 L537.5,271.19 L538.5,271.22 L539.5,271.26 L540.5,271.29 L541.5,271.32 L542.5,271.35 L543.5,271.38 L544.5,271.41 L545.5,271.44 L546.5,271.47 L547.5,271.50 L548.5,271.53 L549.5,271.56 L550.5,271.59 L551.5,271.61 L552.5,271.64 L553.5,271.66 L554.5,271.69 L555.5,271.72 L556.5,271.74 L557.5,271.76 L558.5,271.79 L559.5,271.81 L560.5,271.83 L561.5,271.86 L562.5,271.88 L563.5,271.90 L564.5,271.92 L565.5,271.94 L566.5,271.97 L567.5,271.99 L568.5,272.01 L569.5,272.03 L570.5,272.05 L571.5,272.06 L572.5,272.08 L573.5,272.10 L574.5,272.12 L575.5,272.14 L576.5,272.16 L577.5,272.17 L578.5,272.19 L579.5,272.21 L580.5,272.22 L581.5,272.24 L582.5,272.26 L583.5,272.27 L584.5,272.29 L585.5,272.30 L586.5,272.32 L587.5,272.33" fill="none" stroke="#ff00ff" stroke-width="1.1"/></g>
<path d="M93.50,437.0V417.8M93.50,62.5V81.7M117.42,437.0V427.6M117.42,62.5V71.9M141.35,437.0V427.6M141.35,62.5V71.9M165.28,437.0V427.6M165.28,62.5V71.9M189.20,437.0V417.8M189.20,62.5V81.7M213.12,437.0V427.6M213.12,62.5V71.9M237.05,437.0V427.6M237.05,62.5V71.9M260.98,437.0V427.6M260.98,62.5V71.9M284.90,437.0V417.8M284.90,62.5V81.7M308.83,437.0V427.6M308.83,62.5V71.9M332.75,437.0V427.6M332.75,62.5V71.9M356.68,437.0V427.6M356.68,62.5V71.9M380.60,437.0V417.8M380.60,62.5V81.7M404.53,437.0V427.6M404.53,62.5V71.9M428.45,437.0V427.6M428.45,62.5V71.9M452.38,437.0V427.6M452.38,62.5V71.9M476.30,437.0V417.8M476.30,62.5V81.7M500.23,437.0V427.6M500.23,62.5V71.9M524.15,437.0V427.6M524.15,62.5V71.9M548.08,437.0V427.6M548.08,62.5V71.9M572.00,437.0V417.8M572.00,62.5V81.7M87.5,69.38H96.9M587.5,69.38H578.1M87.5,92.66H96.9M587.5,92.66H578.1M87.5,115.94H96.9M587.5,115.94H578.1M87.5,139.22H96.9M587.5,139.22H578.1M87.5,162.50H106.7M587.5,162.50H568.3M87.5,185.78H96.9M587.5,185.78H578.1M87.5,209.06H96.9M587.5,209.06H578.1M87.5,232.34H96.9M587.5,232.34H578.1M87.5,255.62H96.9M587.5,255.62H578.1M87.5,278.90H106.7M587.5,278.90H568.3M87.5,302.18H96.9M587.5,302.18H578.1M87.5,325.46H96.9M587.5,325.46H578.1M87.5,348.74H96.9M587.5,348.74H578.1M87.5,372.02H96.9M587.5,372.02H578.1M87.5,395.30H106.7M587.5,395.30H568.3M87.5,418.58H96.9M587.5,418.58H578.1" fill="none" stroke="#000" stroke-width="1"/>
<rect x="87.5" y="62.5" width="500.0" height="374.5" fill="none" stroke="#000" stroke-width="1.1"/>
<text x="337.5" y="41.3" font-family="Liberation Serif" fill="#000" stroke="#000" stroke-width="0.45" font-size="21" text-anchor="middle" textLength="197" lengthAdjust="spacingAndGlyphs">OGLE-2025-BLG-1256</text>
<text x="93.5" y="463" font-family="Liberation Serif" fill="#000" stroke="#000" stroke-width="0.45" font-size="19.3" text-anchor="middle" textLength="52.5" lengthAdjust="spacingAndGlyphs">10860</text>
<text x="189.2" y="463" font-family="Liberation Serif" fill="#000" stroke="#000" stroke-width="0.45" font-size="19.3" text-anchor="middle" textLength="52.5" lengthAdjust="spacingAndGlyphs">10880</text>
<text x="284.9" y="463" font-family="Liberation Serif" fill="#000" stroke="#000" stroke-width="0.45" font-size="19.3" text-anchor="middle" textLength="52.5" lengthAdjust="spacingAndGlyphs">10900</text>
<text x="380.6" y="463" font-family="Liberation Serif" fill="#000" stroke="#000" stroke-width="0.45" font-size="19.3" text-anchor="middle" textLength="52.5" lengthAdjust="spacingAndGlyphs">10920</text>
<text x="476.3" y="463" font-family="Liberation Serif" fill="#000" stroke="#000" stroke-width="0.45" font-size="19.3" text-anchor="middle" textLength="52.5" lengthAdjust="spacingAndGlyphs">10940</text>
<text x="572.0" y="463" font-family="Liberation Serif" fill="#000" stroke="#000" stroke-width="0.45" font-size="19.3" text-anchor="middle" textLength="52.5" lengthAdjust="spacingAndGlyphs">10960</text>
<text x="78" y="169.1" font-family="Liberation Serif" fill="#000" stroke="#000" stroke-width="0.45" font-size="20.5" text-anchor="end" textLength="19.5" lengthAdjust="spacingAndGlyphs">17</text>
<text x="78" y="286.2" font-family="Liberation Serif" fill="#000" stroke="#000" stroke-width="0.45" font-size="20.5" text-anchor="end" textLength="35.5" lengthAdjust="spacingAndGlyphs">17.5</text>
<text x="78" y="402.2" font-family="Liberation Serif" fill="#000" stroke="#000" stroke-width="0.45" font-size="20.5" text-anchor="end" textLength="19.5" lengthAdjust="spacingAndGlyphs">18</text>
<text x="336.8" y="491.8" font-family="Liberation Serif" fill="#000" stroke="#000" stroke-width="0.45" font-size="21" text-anchor="middle" textLength="127.5" lengthAdjust="spacingAndGlyphs">HJD - 2450000</text>
<text transform="translate(27.2,249.5) rotate(-90)" x="0" y="0" font-family="Liberation Serif" fill="#000" stroke="#000" stroke-width="0.45" font-size="21.5" text-anchor="middle" textLength="106" lengthAdjust="spacingAndGlyphs">I magnitude</text>
</svg></body></html>
